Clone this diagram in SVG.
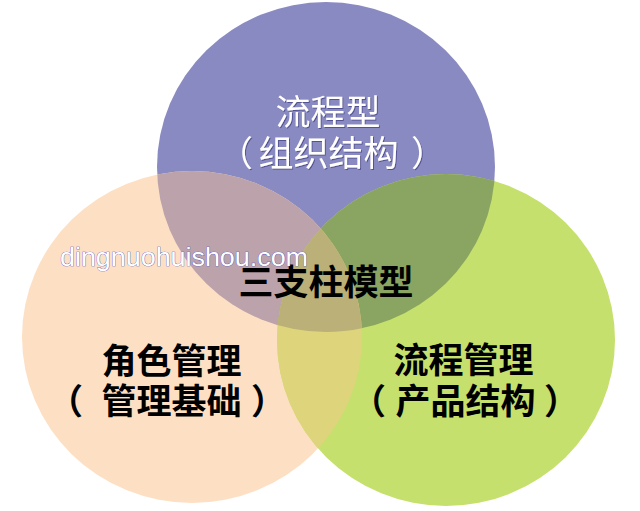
<svg xmlns="http://www.w3.org/2000/svg" width="640" height="511" viewBox="0 0 640 511">
  <style>
    .cjk { font-family: "Noto Sans CJK SC", "Noto Sans", sans-serif; font-size: 35px; }
    .white { fill: #ffffff; filter: url(#shadow); }
    .black { fill: #000000; font-weight: bold; }
    .wm { font-family: "Liberation Sans", Arial, sans-serif; font-size: 26px; fill: #ffffff; stroke: #3f50c8; stroke-width: 0.7; paint-order: stroke fill; }
  </style>
  <defs>
    <filter id="shadow" x="-10%" y="-10%" width="130%" height="140%">
      <feDropShadow dx="1" dy="1" stdDeviation="0.4" flood-color="#3a3a80" flood-opacity="0.7"/>
    </filter>
    <ellipse id="eP" cx="326" cy="167" rx="169" ry="165"/>
    <ellipse id="eE" cx="192" cy="337" rx="170" ry="166"/>
    <ellipse id="eG" cx="446" cy="340" rx="169" ry="166"/>
    <clipPath id="cP"><use href="#eP"/></clipPath>
    <clipPath id="cE"><use href="#eE"/></clipPath>
    <clipPath id="cG"><use href="#eG"/></clipPath>
    <clipPath id="cPE" clip-path="url(#cP)"><use href="#eE"/></clipPath>
  </defs>
  <rect width="640" height="511" fill="#ffffff"/>

  <g id="circle-process-type">
    <use href="#eP" fill="#8a8ac2"/>
  </g>
  <g id="circle-role">
    <use href="#eE" fill="#fde0c4"/>
  </g>
  <g id="circle-process-mgmt">
    <use href="#eG" fill="#c5e06c"/>
  </g>
  <g id="overlaps">
    <use href="#eE" fill="#bba2ab" clip-path="url(#cP)"/>
    <use href="#eG" fill="#8aa462" clip-path="url(#cP)"/>
    <use href="#eG" fill="#ded47c" clip-path="url(#cE)"/>
    <use href="#eG" fill="#bab078" clip-path="url(#cPE)"/>
  </g>

  <g id="label-process-type">
    <text class="cjk white" x="275.6" y="125">流程型</text>
    <text class="cjk white" y="166"><tspan x="218">（</tspan><tspan x="258.6">组织结构</tspan><tspan x="411">）</tspan></text>
  </g>
  <g id="label-role">
    <text class="cjk black" x="101.6" y="374">角色管理</text>
    <text class="cjk black" y="414"><tspan x="48">（</tspan><tspan x="101.6">管理基础</tspan><tspan x="251">）</tspan></text>
  </g>
  <g id="label-process-mgmt">
    <text class="cjk black" x="393.6" y="373">流程管理</text>
    <text class="cjk black" y="414"><tspan x="351">（</tspan><tspan x="395.6">产品结构</tspan><tspan x="544">）</tspan></text>
  </g>
  <g id="label-center">
    <text class="cjk black" x="238.6" y="295">三支柱模型</text>
  </g>
  <text class="wm" x="60" y="266" textLength="248" lengthAdjust="spacingAndGlyphs">dingnuohuishou.com</text>
</svg>
